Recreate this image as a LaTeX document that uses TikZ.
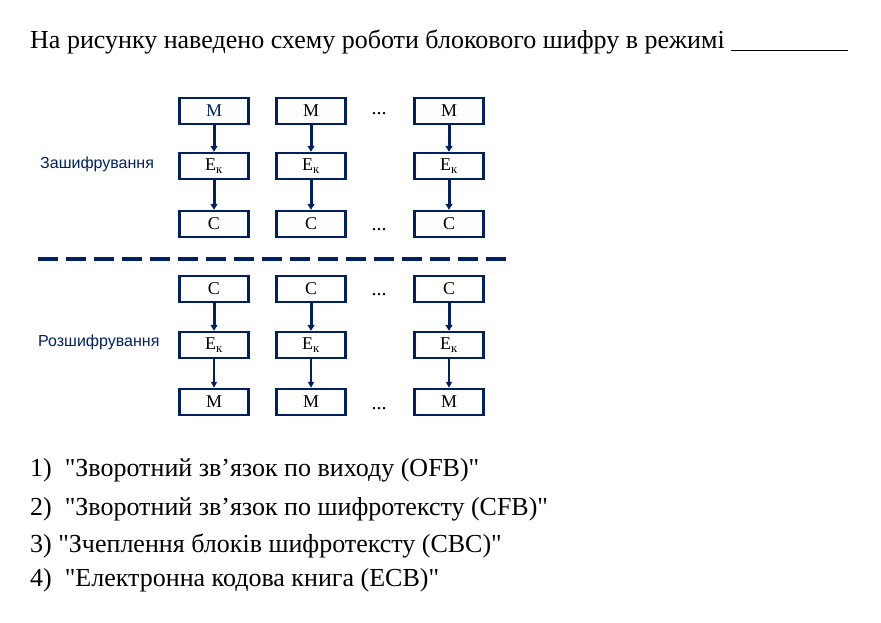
\documentclass[tikz,border=0pt]{standalone}
\usepackage{fontspec}
\setmainfont{Liberation Serif}
\newfontfamily\labelfont{Liberation Sans}
\usetikzlibrary{arrows.meta}
\definecolor{navy}{RGB}{0,32,96}

\begin{document}
\begin{tikzpicture}[x=1pt, y=-1pt,
  every node/.style={font=\fontsize{18}{20}\selectfont},
  blok/.style={draw=navy, line width=2.4pt, minimum width=69pt, minimum height=26pt, inner sep=0pt},
  arr/.style={navy, line width=3pt, -{Triangle[length=6pt,width=7pt]}},
  arrthin/.style={navy, line width=1.8pt, -{Triangle[length=6pt,width=6pt]}},
  krapky/.style={font=\fontsize{20}{22}\selectfont, inner sep=0pt, anchor=base},
  rezhym/.style={font=\labelfont\fontsize{16}{18}\selectfont, text=navy, anchor=west, inner sep=0pt},
  variant/.style={font=\fontsize{26}{30}\selectfont, anchor=west, inner sep=0pt}]
  \useasboundingbox (0,0) rectangle (881,623);

  % Питання
  \node[variant] (pytannia) at (30,42) {На рисунку наведено схему роботи блокового шифру в режимі \underline{\hspace{117pt}}};

  % Зашифрування
  \node[rezhym] (zash) at (40,164) {Зашифрування};
  \node[blok, text=navy] (m1) at (214,111) {M};
  \node[blok] (m2) at (311,111) {M};
  \node[blok] (m3) at (449,111) {M};
  \node[blok] (e1) at (214,166) {E\textsubscript{к}};
  \node[blok] (e2) at (311,166) {E\textsubscript{к}};
  \node[blok] (e3) at (449,166) {E\textsubscript{к}};
  \node[blok] (c1) at (214,224) {C};
  \node[blok] (c2) at (311,224) {C};
  \node[blok] (c3) at (449,224) {C};
  \node[krapky] (d1) at (379,115) {...};
  \node[krapky] (d2) at (379,230) {...};

  \draw[arr] (m1) -- (e1);
  \draw[arr] (m2) -- (e2);
  \draw[arr] (m3) -- (e3);
  \draw[arr] (e1) -- (c1);
  \draw[arr] (e2) -- (c2);
  \draw[arr] (e3) -- (c3);

  % Роздiлювач
  \coordinate (rl) at (38,259);
  \coordinate (rr) at (506,259);
  \draw[navy, line width=4pt, dash pattern=on 20pt off 8pt] (rl) -- (rr);

  % Розшифрування
  \node[rezhym] (rozsh) at (38,342) {Розшифрування};
  \node[blok] (cc1) at (214,289) {C};
  \node[blok] (cc2) at (311,289) {C};
  \node[blok] (cc3) at (449,289) {C};
  \node[blok] (ee1) at (214,345) {E\textsubscript{к}};
  \node[blok] (ee2) at (311,345) {E\textsubscript{к}};
  \node[blok] (ee3) at (449,345) {E\textsubscript{к}};
  \node[blok] (mm1) at (214,402) {M};
  \node[blok] (mm2) at (311,402) {M};
  \node[blok] (mm3) at (449,402) {M};
  \node[krapky] (d3) at (379,295) {...};
  \node[krapky] (d4) at (379,409) {...};

  \draw[arr] (cc1) -- (ee1);
  \draw[arr] (cc2) -- (ee2);
  \draw[arr] (cc3) -- (ee3);
  \draw[arrthin] (ee1) -- (mm1);
  \draw[arrthin] (ee2) -- (mm2);
  \draw[arrthin] (ee3) -- (mm3);

  % Варiанти
  \node[variant] (v1) at (30,470) {1)\ \ \textquotedbl Зворотний зв’язок по виходу (OFB)\textquotedbl};
  \node[variant] (v2) at (30,509) {2)\ \ \textquotedbl Зворотний зв’язок по шифротексту (CFB)\textquotedbl};
  \node[variant] (v3) at (30,546) {3) \textquotedbl Зчеплення блоків шифротексту (CBC)\textquotedbl};
  \node[variant] (v4) at (30,580) {4)\ \ \textquotedbl Електронна кодова книга (ECB)\textquotedbl};
\end{tikzpicture}
\end{document}
